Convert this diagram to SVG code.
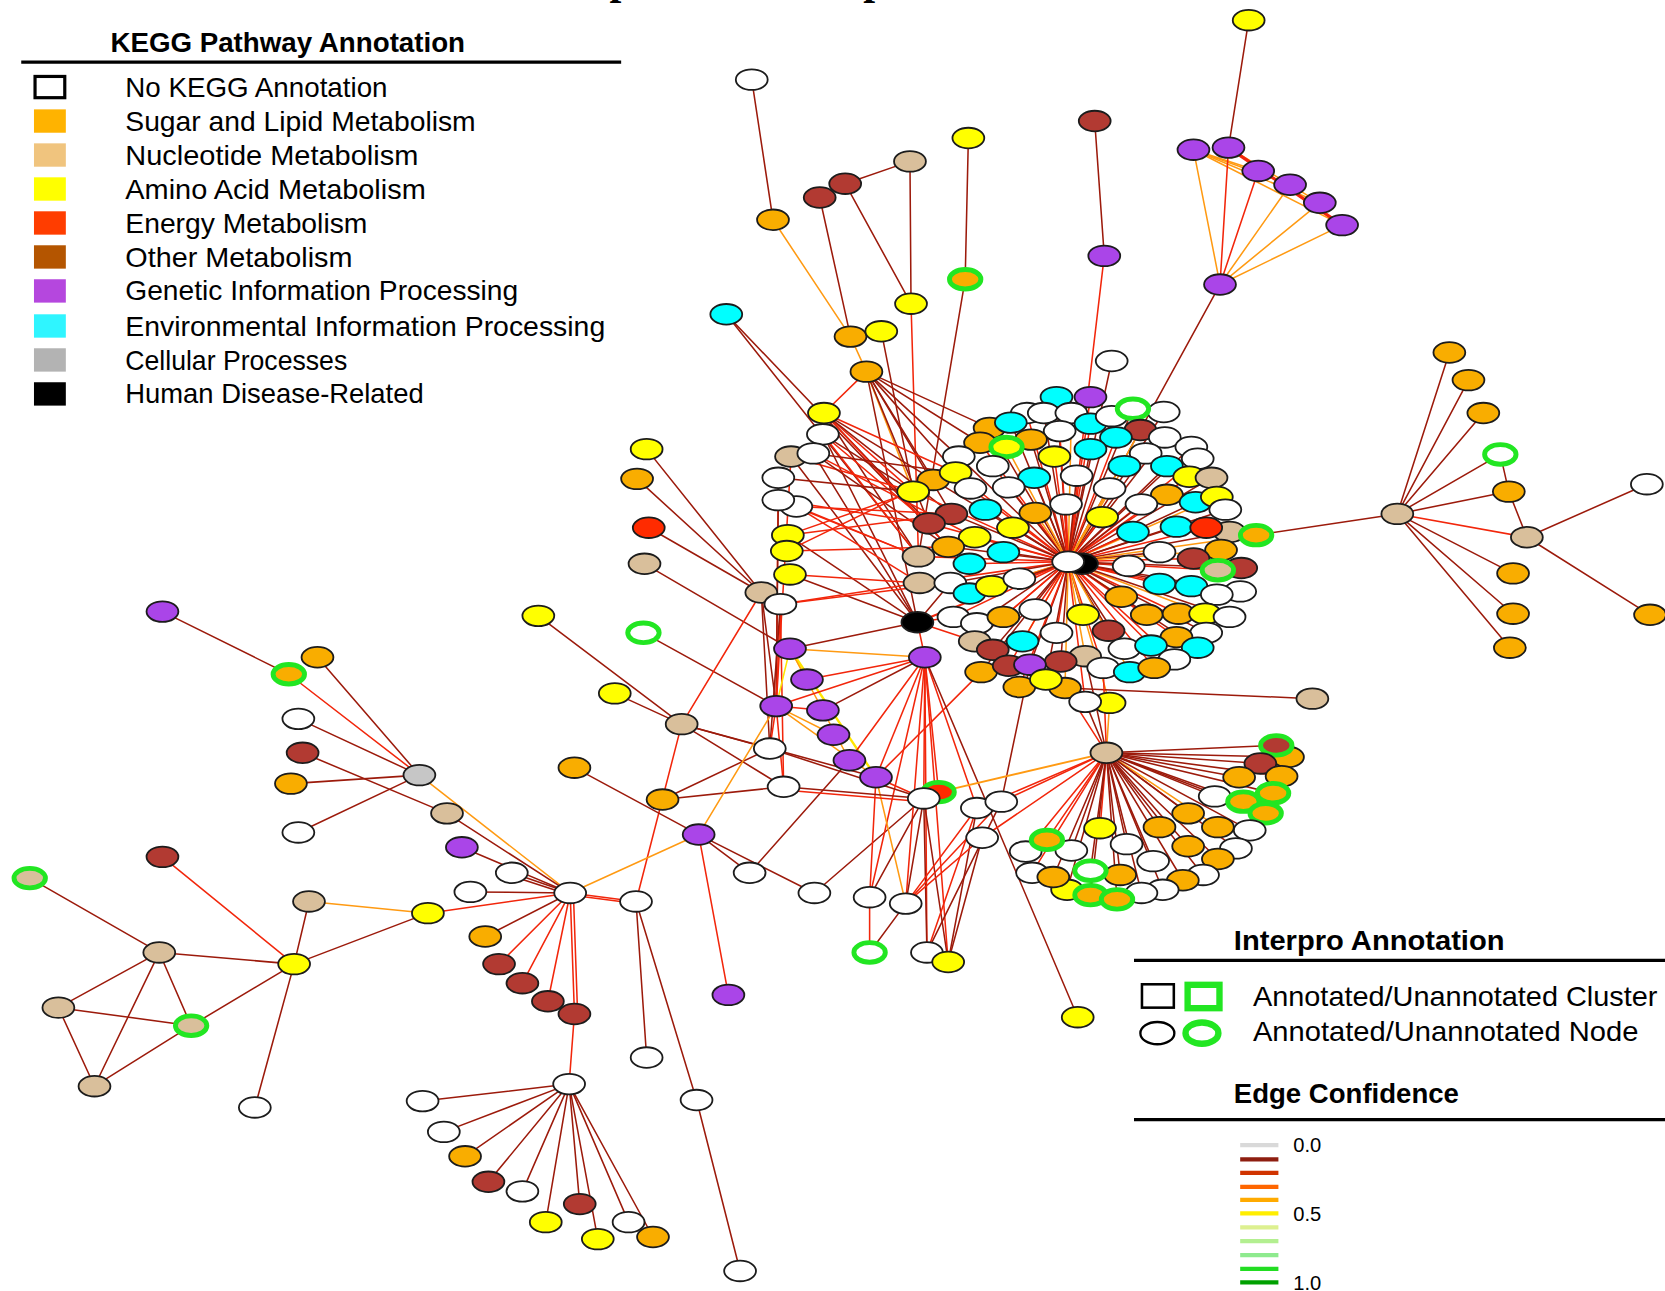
<svg xmlns="http://www.w3.org/2000/svg" width="1665" height="1291" viewBox="0 0 1665 1291">
<style>
.lg{font-family:"Liberation Sans",Arial,sans-serif;fill:#000}
.lt{font-size:26px}
.lh{font-size:25.5px;font-weight:bold}
.ls{font-size:19px}
#edges line{stroke-width:1.45;fill:none;stroke-linecap:round}
.e1{stroke:#9c1a0b}
.e2{stroke:#f2260b}
.e3{stroke:#ff9a12}
.e4{stroke:#ffe600}
.nd ellipse{stroke:#1c1c1c;stroke-width:1.7}
.rg ellipse{stroke:#22e622;stroke-width:4.6}
.w{fill:#ffffff}.o{fill:#f9ad00}.t{fill:#d9bf9b}.y{fill:#ffff00}.r{fill:#ff2b00}
.b{fill:#b23a32}.p{fill:#aa45e8}.c{fill:#00ffff}.g{fill:#c6c6c6}.k{fill:#000000}
</style>
<rect width="1665" height="1291" fill="#ffffff"/>
<g transform="scale(1.0618)">
<!-- heading above the frame, only the descenders reach the visible area -->
<g id="heading" font-family="Liberation Serif,serif" font-weight="bold" font-size="40">
<text x="574" y="-5.5">p</text>
<text x="813" y="-5.5">p</text>
</g>

<!-- KEGG legend -->
<g id="legend-kegg" class="lg">
<text class="lh" x="104" y="49" textLength="334" lengthAdjust="spacingAndGlyphs">KEGG Pathway Annotation</text>
<line x1="20" y1="58.5" x2="585" y2="58.5" stroke="#000" stroke-width="3"/>
<rect x="33" y="72" width="28" height="20" fill="#fff" stroke="#000" stroke-width="3"/>
<rect x="32" y="103" width="30" height="22" fill="#ffb300"/>
<rect x="32" y="135" width="30" height="22" fill="#f0c47e"/>
<rect x="32" y="167" width="30" height="22" fill="#ffff00"/>
<rect x="32" y="199" width="30" height="22" fill="#ff3d00"/>
<rect x="32" y="231" width="30" height="22" fill="#b45500"/>
<rect x="32" y="263" width="30" height="22" fill="#b547de"/>
<rect x="32" y="296" width="30" height="22" fill="#2ff5ff"/>
<rect x="32" y="328" width="30" height="22" fill="#b3b3b3"/>
<rect x="32" y="360" width="30" height="22" fill="#000"/>
<text class="lt" x="118" y="91" textLength="247" lengthAdjust="spacingAndGlyphs">No KEGG Annotation</text>
<text class="lt" x="118" y="123" textLength="330" lengthAdjust="spacingAndGlyphs">Sugar and Lipid Metabolism</text>
<text class="lt" x="118" y="155" textLength="276" lengthAdjust="spacingAndGlyphs">Nucleotide Metabolism</text>
<text class="lt" x="118" y="187" textLength="283" lengthAdjust="spacingAndGlyphs">Amino Acid Metabolism</text>
<text class="lt" x="118" y="219" textLength="228" lengthAdjust="spacingAndGlyphs">Energy Metabolism</text>
<text class="lt" x="118" y="251" textLength="214" lengthAdjust="spacingAndGlyphs">Other Metabolism</text>
<text class="lt" x="118" y="283" textLength="370" lengthAdjust="spacingAndGlyphs">Genetic Information Processing</text>
<text class="lt" x="118" y="316" textLength="452" lengthAdjust="spacingAndGlyphs">Environmental Information Processing</text>
<text class="lt" x="118" y="348" textLength="209" lengthAdjust="spacingAndGlyphs">Cellular Processes</text>
<text class="lt" x="118" y="380" textLength="281" lengthAdjust="spacingAndGlyphs">Human Disease-Related</text>
</g>

<!-- Interpro legend -->
<g id="legend-interpro" class="lg">
<text class="lh" x="1162" y="895" textLength="255" lengthAdjust="spacingAndGlyphs">Interpro Annotation</text>
<line x1="1068" y1="904.5" x2="1570" y2="904.5" stroke="#000" stroke-width="3"/>
<rect x="1075.5" y="927" width="30" height="22" fill="#fff" stroke="#000" stroke-width="2.4"/>
<rect x="1118.5" y="927.5" width="30" height="22" fill="#fff" stroke="#22e622" stroke-width="6"/>
<ellipse cx="1090" cy="973" rx="16" ry="10.5" fill="#fff" stroke="#000" stroke-width="2.2"/>
<ellipse cx="1132" cy="973" rx="15.5" ry="10" fill="#fff" stroke="#22e622" stroke-width="6"/>
<text class="lt" x="1180" y="947" textLength="381" lengthAdjust="spacingAndGlyphs">Annotated/Unannotated Cluster</text>
<text class="lt" x="1180" y="980" textLength="363" lengthAdjust="spacingAndGlyphs">Annotated/Unannotated Node</text>
</g>

<!-- edge confidence legend -->
<g id="legend-confidence" class="lg">
<text class="lh" x="1162" y="1039" textLength="212" lengthAdjust="spacingAndGlyphs">Edge Confidence</text>
<line x1="1068" y1="1054.5" x2="1570" y2="1054.5" stroke="#000" stroke-width="3"/>
<g stroke-width="4">
<line x1="1168" y1="1078.5" x2="1204" y2="1078.5" stroke="#d9d9d9"/>
<line x1="1168" y1="1092" x2="1204" y2="1092" stroke="#8e1e10"/>
<line x1="1168" y1="1104.5" x2="1204" y2="1104.5" stroke="#d03300"/>
<line x1="1168" y1="1117.7" x2="1204" y2="1117.7" stroke="#ff6600"/>
<line x1="1168" y1="1130" x2="1204" y2="1130" stroke="#ffaa00"/>
<line x1="1168" y1="1142.8" x2="1204" y2="1142.8" stroke="#ffee00"/>
<line x1="1168" y1="1156" x2="1204" y2="1156" stroke="#ddf090"/>
<line x1="1168" y1="1169" x2="1204" y2="1169" stroke="#b3ef90"/>
<line x1="1168" y1="1182" x2="1204" y2="1182" stroke="#8eea8e"/>
<line x1="1168" y1="1195" x2="1204" y2="1195" stroke="#22dd22"/>
<line x1="1168" y1="1207.8" x2="1204" y2="1207.8" stroke="#00a000"/>
</g>
<text class="ls" x="1218" y="1085">0.0</text>
<text class="ls" x="1218" y="1150">0.5</text>
<text class="ls" x="1218" y="1215">1.0</text>
</g>

<g id="edges">
<!-- top branches -->
<line class="e1" x1="1176" y1="19" x2="1157" y2="139"/>
<line class="e3" x1="1124" y1="141" x2="1185" y2="161"/>
<line class="e3" x1="1124" y1="141" x2="1215" y2="174"/>
<line class="e3" x1="1124" y1="141" x2="1243" y2="191"/>
<line class="e3" x1="1124" y1="141" x2="1264" y2="212"/>
<line class="e3" x1="1157" y1="139" x2="1243" y2="191"/>
<line class="e2" x1="1157" y1="139" x2="1264" y2="212" style="stroke-width:3"/>
<line class="e3" x1="1149" y1="268" x2="1124" y2="141"/>
<line class="e2" x1="1149" y1="268" x2="1157" y2="139"/>
<line class="e2" x1="1149" y1="268" x2="1185" y2="161"/>
<line class="e3" x1="1149" y1="268" x2="1215" y2="174"/>
<line class="e3" x1="1149" y1="268" x2="1243" y2="191"/>
<line class="e3" x1="1149" y1="268" x2="1264" y2="212"/>
<line class="e1" x1="1149" y1="268" x2="1006" y2="529"/>
<line class="e1" x1="708" y1="75" x2="728" y2="207"/>
<line class="e3" x1="728" y1="207" x2="801" y2="317"/>
<line class="e3" x1="801" y1="317" x2="816" y2="350"/>
<line class="e1" x1="857" y1="152" x2="796" y2="173"/>
<line class="e1" x1="857" y1="152" x2="858" y2="286"/>
<line class="e1" x1="796" y1="173" x2="858" y2="286"/>
<line class="e1" x1="772" y1="186" x2="801" y2="317"/>
<line class="e1" x1="912" y1="130" x2="909" y2="263"/>
<line class="e1" x1="909" y1="263" x2="865" y2="524"/>
<line class="e2" x1="858" y1="286" x2="865" y2="524"/>
<line class="e1" x1="1031" y1="114" x2="1040" y2="241"/>
<line class="e2" x1="1040" y1="241" x2="1006" y2="529"/>
<line class="e1" x1="1047" y1="340" x2="1006" y2="529"/>
<line class="e1" x1="684" y1="296" x2="865" y2="524"/>
<line class="e1" x1="684" y1="296" x2="893" y2="515"/>
<line class="e1" x1="830" y1="312" x2="860" y2="463"/>
<line class="e3" x1="816" y1="350" x2="860" y2="463"/>
<line class="e1" x1="816" y1="350" x2="900" y2="445"/>
<line class="e1" x1="816" y1="350" x2="903" y2="430"/>
<line class="e1" x1="816" y1="350" x2="923" y2="417"/>
<line class="e1" x1="816" y1="350" x2="932" y2="403"/>
<line class="e1" x1="816" y1="350" x2="879" y2="452"/>
<line class="e1" x1="816" y1="350" x2="875" y2="493"/>
<line class="e1" x1="816" y1="350" x2="896" y2="484"/>
<line class="e1" x1="816" y1="350" x2="864" y2="586"/>
<line class="e2" x1="816" y1="350" x2="776" y2="389"/>
<!-- left column into the cluster -->
<line class="e2" x1="776" y1="389" x2="860" y2="463"/>
<line class="e1" x1="776" y1="389" x2="879" y2="452"/>
<line class="e1" x1="776" y1="389" x2="875" y2="493"/>
<line class="e1" x1="776" y1="389" x2="896" y2="484"/>
<line class="e2" x1="776" y1="389" x2="900" y2="445"/>
<line class="e2" x1="776" y1="389" x2="893" y2="515"/>
<line class="e1" x1="776" y1="389" x2="865" y2="524"/>
<line class="e1" x1="775" y1="409" x2="860" y2="463"/>
<line class="e2" x1="775" y1="409" x2="865" y2="524"/>
<line class="e1" x1="775" y1="409" x2="864" y2="586"/>
<line class="e2" x1="775" y1="409" x2="875" y2="493"/>
<line class="e2" x1="745" y1="430" x2="860" y2="463"/>
<line class="e1" x1="745" y1="430" x2="864" y2="586"/>
<line class="e2" x1="745" y1="430" x2="731" y2="665"/>
<line class="e1" x1="766" y1="427" x2="900" y2="445"/>
<line class="e2" x1="766" y1="427" x2="918" y2="506"/>
<line class="e1" x1="766" y1="427" x2="893" y2="515"/>
<line class="e1" x1="766" y1="427" x2="864" y2="586"/>
<line class="e1" x1="733" y1="450" x2="860" y2="463"/>
<line class="e2" x1="733" y1="450" x2="731" y2="665"/>
<line class="e2" x1="733" y1="471" x2="875" y2="493"/>
<line class="e1" x1="733" y1="471" x2="731" y2="665"/>
<line class="e2" x1="733" y1="471" x2="865" y2="524"/>
<line class="e2" x1="750" y1="477" x2="865" y2="524"/>
<line class="e2" x1="750" y1="477" x2="896" y2="484"/>
<line class="e2" x1="750" y1="477" x2="866" y2="549"/>
<line class="e2" x1="742" y1="504" x2="860" y2="463"/>
<line class="e2" x1="742" y1="504" x2="896" y2="484"/>
<line class="e1" x1="742" y1="504" x2="864" y2="586"/>
<line class="e2" x1="741" y1="519" x2="879" y2="452"/>
<line class="e2" x1="741" y1="519" x2="893" y2="515"/>
<line class="e2" x1="744" y1="541" x2="866" y2="549"/>
<line class="e1" x1="744" y1="541" x2="864" y2="586"/>
<line class="e1" x1="717" y1="558" x2="731" y2="665"/>
<line class="e1" x1="717" y1="558" x2="725" y2="705"/>
<line class="e2" x1="735" y1="569" x2="895" y2="549"/>
<line class="e2" x1="735" y1="569" x2="866" y2="549"/>
<line class="e2" x1="735" y1="569" x2="731" y2="665"/>
<line class="e2" x1="735" y1="569" x2="738" y2="741"/>
<line class="e1" x1="735" y1="569" x2="725" y2="705"/>
<!-- disease node -->
<line class="e2" x1="864" y1="586" x2="1006" y2="529" style="stroke-width:2"/>
<line class="e1" x1="864" y1="586" x2="744" y2="611"/>
<line class="e2" x1="864" y1="586" x2="871" y2="619"/>
<line class="e2" x1="864" y1="586" x2="898" y2="581"/>
<line class="e2" x1="864" y1="586" x2="918" y2="604"/>
<line class="e1" x1="864" y1="586" x2="895" y2="549"/>
<!-- central star -->
<line class="e1" x1="1006" y1="529" x2="995" y2="374"/>
<line class="e2" x1="1006" y1="529" x2="1027" y2="374"/>
<line class="e1" x1="1006" y1="529" x2="1067" y2="385"/>
<line class="e1" x1="1006" y1="529" x2="1096" y2="388"/>
<line class="e2" x1="1006" y1="529" x2="967" y2="389"/>
<line class="e1" x1="1006" y1="529" x2="983" y2="389"/>
<line class="e3" x1="1006" y1="529" x2="1009" y2="389"/>
<line class="e2" x1="1006" y1="529" x2="1027" y2="399"/>
<line class="e1" x1="1006" y1="529" x2="932" y2="403"/>
<line class="e1" x1="1006" y1="529" x2="952" y2="398"/>
<line class="e2" x1="1006" y1="529" x2="998" y2="406"/>
<line class="e1" x1="1006" y1="529" x2="1047" y2="392"/>
<line class="e3" x1="1006" y1="529" x2="1074" y2="405"/>
<line class="e2" x1="1006" y1="529" x2="1051" y2="412"/>
<line class="e1" x1="1006" y1="529" x2="1097" y2="412"/>
<line class="e1" x1="1006" y1="529" x2="1122" y2="421"/>
<line class="e2" x1="1006" y1="529" x2="923" y2="417"/>
<line class="e3" x1="1006" y1="529" x2="948" y2="421"/>
<line class="e1" x1="1006" y1="529" x2="971" y2="414"/>
<line class="e2" x1="1006" y1="529" x2="993" y2="430"/>
<line class="e1" x1="1006" y1="529" x2="1027" y2="423"/>
<line class="e1" x1="1006" y1="529" x2="1079" y2="427"/>
<line class="e2" x1="1006" y1="529" x2="1128" y2="432"/>
<line class="e1" x1="1006" y1="529" x2="903" y2="430"/>
<line class="e2" x1="1006" y1="529" x2="935" y2="439"/>
<line class="e3" x1="1006" y1="529" x2="1059" y2="439"/>
<line class="e1" x1="1006" y1="529" x2="1099" y2="439"/>
<line class="e2" x1="1006" y1="529" x2="900" y2="445"/>
<line class="e1" x1="1006" y1="529" x2="879" y2="452"/>
<line class="e2" x1="1006" y1="529" x2="860" y2="463"/>
<line class="e1" x1="1006" y1="529" x2="974" y2="450"/>
<line class="e1" x1="1006" y1="529" x2="1014" y2="448"/>
<line class="e2" x1="1006" y1="529" x2="914" y2="460"/>
<line class="e1" x1="1006" y1="529" x2="950" y2="459"/>
<line class="e3" x1="1006" y1="529" x2="1045" y2="460"/>
<line class="e2" x1="1006" y1="529" x2="1120" y2="449"/>
<line class="e1" x1="1006" y1="529" x2="1141" y2="450"/>
<line class="e2" x1="1006" y1="529" x2="1099" y2="466"/>
<line class="e1" x1="1006" y1="529" x2="1126" y2="473"/>
<line class="e3" x1="1006" y1="529" x2="1146" y2="468"/>
<line class="e1" x1="1006" y1="529" x2="1154" y2="480"/>
<line class="e2" x1="1006" y1="529" x2="1004" y2="475"/>
<line class="e1" x1="1006" y1="529" x2="1075" y2="475"/>
<line class="e1" x1="1006" y1="529" x2="896" y2="484"/>
<line class="e2" x1="1006" y1="529" x2="875" y2="493"/>
<line class="e1" x1="1006" y1="529" x2="928" y2="480"/>
<line class="e3" x1="1006" y1="529" x2="975" y2="483"/>
<line class="e2" x1="1006" y1="529" x2="1038" y2="487"/>
<line class="e1" x1="1006" y1="529" x2="954" y2="497"/>
<line class="e2" x1="1006" y1="529" x2="1067" y2="501"/>
<line class="e1" x1="1006" y1="529" x2="1108" y2="496"/>
<line class="e2" x1="1006" y1="529" x2="1136" y2="497"/>
<line class="e1" x1="1006" y1="529" x2="1158" y2="501"/>
<line class="e3" x1="1006" y1="529" x2="1183" y2="504"/>
<line class="e2" x1="1006" y1="529" x2="918" y2="506"/>
<line class="e1" x1="1006" y1="529" x2="893" y2="515"/>
<line class="e2" x1="1006" y1="529" x2="865" y2="524"/>
<line class="e1" x1="1006" y1="529" x2="945" y2="520"/>
<line class="e2" x1="1006" y1="529" x2="913" y2="531"/>
<line class="e1" x1="1006" y1="529" x2="1092" y2="520"/>
<line class="e2" x1="1006" y1="529" x2="1124" y2="526"/>
<line class="e3" x1="1006" y1="529" x2="1150" y2="518"/>
<line class="e1" x1="1006" y1="529" x2="1063" y2="533"/>
<line class="e2" x1="1006" y1="529" x2="1147" y2="537"/>
<line class="e1" x1="1006" y1="529" x2="1169" y2="535"/>
<line class="e2" x1="1006" y1="529" x2="866" y2="549"/>
<line class="e1" x1="1006" y1="529" x2="895" y2="549"/>
<line class="e2" x1="1006" y1="529" x2="913" y2="559"/>
<line class="e3" x1="1006" y1="529" x2="934" y2="552"/>
<line class="e1" x1="1006" y1="529" x2="960" y2="545"/>
<line class="e2" x1="1006" y1="529" x2="1092" y2="550"/>
<line class="e1" x1="1006" y1="529" x2="1122" y2="552"/>
<line class="e2" x1="1006" y1="529" x2="1146" y2="560"/>
<line class="e1" x1="1006" y1="529" x2="1168" y2="557"/>
<line class="e3" x1="1006" y1="529" x2="1056" y2="562"/>
<line class="e2" x1="1006" y1="529" x2="975" y2="574"/>
<line class="e1" x1="1006" y1="529" x2="1020" y2="579"/>
<line class="e2" x1="1006" y1="529" x2="898" y2="581"/>
<line class="e1" x1="1006" y1="529" x2="920" y2="587"/>
<line class="e2" x1="1006" y1="529" x2="945" y2="581"/>
<line class="e1" x1="1006" y1="529" x2="1080" y2="579"/>
<line class="e2" x1="1006" y1="529" x2="1110" y2="578"/>
<line class="e3" x1="1006" y1="529" x2="1135" y2="578"/>
<line class="e1" x1="1006" y1="529" x2="1158" y2="581"/>
<line class="e2" x1="1006" y1="529" x2="995" y2="596"/>
<line class="e1" x1="1006" y1="529" x2="1044" y2="594"/>
<line class="e2" x1="1006" y1="529" x2="1108" y2="600"/>
<line class="e1" x1="1006" y1="529" x2="1136" y2="596"/>
<line class="e2" x1="1006" y1="529" x2="918" y2="604"/>
<line class="e1" x1="1006" y1="529" x2="935" y2="612"/>
<line class="e3" x1="1006" y1="529" x2="963" y2="604"/>
<line class="e1" x1="1006" y1="529" x2="1059" y2="611"/>
<line class="e2" x1="1006" y1="529" x2="1084" y2="608"/>
<line class="e1" x1="1006" y1="529" x2="1128" y2="610"/>
<line class="e2" x1="1006" y1="529" x2="1106" y2="621"/>
<line class="e3" x1="1006" y1="529" x2="1022" y2="618"/>
<line class="e1" x1="1006" y1="529" x2="999" y2="623"/>
<line class="e2" x1="1006" y1="529" x2="950" y2="627"/>
<line class="e1" x1="1006" y1="529" x2="970" y2="626"/>
<line class="e2" x1="1006" y1="529" x2="1039" y2="629"/>
<line class="e1" x1="1006" y1="529" x2="924" y2="633"/>
<line class="e3" x1="1006" y1="529" x2="1064" y2="633"/>
<line class="e2" x1="1006" y1="529" x2="1087" y2="629"/>
<line class="e1" x1="1006" y1="529" x2="985" y2="640"/>
<line class="e2" x1="1006" y1="529" x2="960" y2="647"/>
<line class="e3" x1="1006" y1="529" x2="1003" y2="648"/>
<line class="e2" x1="1006" y1="529" x2="1022" y2="661"/>
<line class="e3" x1="1006" y1="529" x2="1045" y2="662"/>
<!-- middle left -->
<line class="e1" x1="609" y1="423" x2="717" y2="558"/>
<line class="e1" x1="600" y1="451" x2="717" y2="558"/>
<line class="e1" x1="611" y1="497" x2="717" y2="558"/>
<line class="e1" x1="607" y1="531" x2="744" y2="611"/>
<line class="e1" x1="606" y1="596" x2="731" y2="665"/>
<line class="e1" x1="579" y1="653" x2="642" y2="682"/>
<line class="e1" x1="507" y1="580" x2="642" y2="682"/>
<line class="e2" x1="642" y1="682" x2="717" y2="558"/>
<line class="e2" x1="642" y1="682" x2="599" y2="849"/>
<line class="e1" x1="642" y1="682" x2="725" y2="705"/>
<line class="e1" x1="642" y1="682" x2="825" y2="732"/>
<line class="e1" x1="642" y1="682" x2="738" y2="741"/>
<line class="e1" x1="541" y1="723" x2="658" y2="786"/>
<line class="e1" x1="624" y1="753" x2="725" y2="705"/>
<line class="e1" x1="624" y1="753" x2="738" y2="741"/>
<line class="e3" x1="658" y1="786" x2="537" y2="841"/>
<line class="e3" x1="658" y1="786" x2="731" y2="665"/>
<line class="e1" x1="658" y1="786" x2="706" y2="822"/>
<line class="e1" x1="658" y1="786" x2="767" y2="841"/>
<line class="e2" x1="658" y1="786" x2="686" y2="937"/>
<line class="e1" x1="706" y1="822" x2="800" y2="716"/>
<line class="e1" x1="767" y1="841" x2="870" y2="752"/>
<line class="e3" x1="744" y1="611" x2="871" y2="619"/>
<line class="e4" x1="744" y1="611" x2="760" y2="640"/>
<line class="e4" x1="744" y1="611" x2="731" y2="665"/>
<line class="e4" x1="744" y1="611" x2="825" y2="732" style="stroke-width:2.2"/>
<line class="e3" x1="744" y1="611" x2="800" y2="716"/>
<line class="e2" x1="731" y1="665" x2="871" y2="619"/>
<line class="e2" x1="731" y1="665" x2="775" y2="669"/>
<line class="e3" x1="731" y1="665" x2="785" y2="692"/>
<line class="e2" x1="731" y1="665" x2="725" y2="705"/>
<line class="e2" x1="731" y1="665" x2="738" y2="741"/>
<line class="e3" x1="731" y1="665" x2="825" y2="732"/>
<line class="e2" x1="760" y1="640" x2="871" y2="619"/>
<line class="e1" x1="775" y1="669" x2="871" y2="619"/>
<line class="e2" x1="800" y1="716" x2="871" y2="619"/>
<line class="e2" x1="825" y1="732" x2="871" y2="619"/>
<line class="e2" x1="924" y1="633" x2="825" y2="732"/>
<line class="e2" x1="871" y1="619" x2="884" y2="746"/>
<line class="e2" x1="871" y1="619" x2="870" y2="752"/>
<line class="e2" x1="871" y1="619" x2="920" y2="761"/>
<line class="e2" x1="871" y1="619" x2="819" y2="845"/>
<line class="e2" x1="871" y1="619" x2="853" y2="851"/>
<line class="e2" x1="871" y1="619" x2="873" y2="897"/>
<line class="e2" x1="871" y1="619" x2="893" y2="906"/>
<line class="e1" x1="871" y1="619" x2="1015" y2="958"/>
<line class="e2" x1="825" y1="732" x2="870" y2="752"/>
<line class="e2" x1="825" y1="732" x2="819" y2="845"/>
<line class="e3" x1="825" y1="732" x2="853" y2="851"/>
<line class="e1" x1="725" y1="705" x2="870" y2="752"/>
<line class="e1" x1="738" y1="741" x2="870" y2="752"/>
<line class="e2" x1="738" y1="744" x2="870" y2="755"/>
<line class="e1" x1="870" y1="752" x2="819" y2="845"/>
<line class="e1" x1="870" y1="752" x2="853" y2="851"/>
<line class="e1" x1="870" y1="752" x2="873" y2="897"/>
<line class="e1" x1="870" y1="752" x2="893" y2="906"/>
<line class="e2" x1="819" y1="897" x2="819" y2="845"/>
<line class="e1" x1="819" y1="897" x2="853" y2="851"/>
<line class="e2" x1="920" y1="761" x2="853" y2="851"/>
<line class="e2" x1="920" y1="761" x2="873" y2="897"/>
<line class="e1" x1="920" y1="761" x2="893" y2="906"/>
<line class="e2" x1="943" y1="755" x2="853" y2="851"/>
<line class="e1" x1="943" y1="755" x2="873" y2="897"/>
<line class="e2" x1="925" y1="789" x2="853" y2="851"/>
<line class="e1" x1="925" y1="789" x2="893" y2="906"/>
<line class="e1" x1="970" y1="626" x2="943" y2="755"/>
<line class="e1" x1="1003" y1="648" x2="1236" y2="658"/>
<!-- lower fan -->
<line class="e3" x1="1042" y1="709" x2="884" y2="746" style="stroke-width:1.8"/>
<line class="e2" x1="1042" y1="709" x2="920" y2="761"/>
<line class="e2" x1="1042" y1="709" x2="943" y2="755"/>
<line class="e2" x1="1042" y1="709" x2="925" y2="789"/>
<line class="e1" x1="1042" y1="709" x2="1022" y2="661"/>
<line class="e3" x1="1042" y1="709" x2="1045" y2="662"/>
<line class="e2" x1="1042" y1="709" x2="1039" y2="629"/>
<line class="e2" x1="1042" y1="709" x2="1003" y2="648"/>
<line class="e1" x1="1042" y1="709" x2="1022" y2="618"/>
<line class="e1" x1="1042" y1="709" x2="1202" y2="702"/>
<line class="e1" x1="1042" y1="709" x2="1213" y2="713"/>
<line class="e1" x1="1042" y1="709" x2="1187" y2="719"/>
<line class="e1" x1="1042" y1="709" x2="1167" y2="732"/>
<line class="e1" x1="1042" y1="709" x2="1207" y2="731"/>
<line class="e1" x1="1042" y1="709" x2="1144" y2="750"/>
<line class="e1" x1="1042" y1="709" x2="1171" y2="755"/>
<line class="e1" x1="1042" y1="709" x2="1199" y2="747"/>
<line class="e1" x1="1042" y1="709" x2="1192" y2="766"/>
<line class="e1" x1="1042" y1="709" x2="1119" y2="766"/>
<line class="e1" x1="1042" y1="709" x2="1092" y2="779"/>
<line class="e3" x1="1042" y1="709" x2="1147" y2="779"/>
<line class="e1" x1="1042" y1="709" x2="1177" y2="782"/>
<line class="e2" x1="1042" y1="709" x2="1036" y2="780"/>
<line class="e2" x1="1042" y1="709" x2="986" y2="791"/>
<line class="e1" x1="1042" y1="709" x2="1061" y2="795"/>
<line class="e1" x1="1042" y1="709" x2="1119" y2="797"/>
<line class="e1" x1="1042" y1="709" x2="1164" y2="799"/>
<line class="e2" x1="1042" y1="709" x2="966" y2="802"/>
<line class="e1" x1="1042" y1="709" x2="1009" y2="801"/>
<line class="e1" x1="1042" y1="709" x2="1086" y2="811"/>
<line class="e1" x1="1042" y1="709" x2="1147" y2="809"/>
<line class="e2" x1="1042" y1="709" x2="972" y2="822"/>
<line class="e1" x1="1042" y1="709" x2="992" y2="826"/>
<line class="e1" x1="1042" y1="709" x2="1027" y2="820"/>
<line class="e1" x1="1042" y1="709" x2="1055" y2="824"/>
<line class="e1" x1="1042" y1="709" x2="1133" y2="824"/>
<line class="e1" x1="1042" y1="709" x2="1114" y2="829"/>
<line class="e1" x1="1042" y1="709" x2="1095" y2="838"/>
<line class="e1" x1="1042" y1="709" x2="1075" y2="841"/>
<line class="e1" x1="1042" y1="709" x2="1005" y2="838"/>
<line class="e1" x1="1042" y1="709" x2="1027" y2="843"/>
<line class="e1" x1="1042" y1="709" x2="1052" y2="847"/>
<!-- right branch -->
<line class="e1" x1="1316" y1="484" x2="1183" y2="504"/>
<line class="e1" x1="1316" y1="484" x2="1365" y2="332"/>
<line class="e1" x1="1316" y1="484" x2="1383" y2="358"/>
<line class="e1" x1="1316" y1="484" x2="1397" y2="389"/>
<line class="e1" x1="1316" y1="484" x2="1413" y2="428"/>
<line class="e1" x1="1316" y1="484" x2="1421" y2="463"/>
<line class="e2" x1="1316" y1="484" x2="1438" y2="506"/>
<line class="e1" x1="1316" y1="484" x2="1425" y2="540"/>
<line class="e1" x1="1316" y1="484" x2="1425" y2="578"/>
<line class="e1" x1="1316" y1="484" x2="1422" y2="610"/>
<line class="e1" x1="1413" y1="428" x2="1421" y2="463"/>
<line class="e1" x1="1421" y1="463" x2="1438" y2="506"/>
<line class="e1" x1="1438" y1="506" x2="1551" y2="456"/>
<line class="e1" x1="1438" y1="506" x2="1554" y2="579"/>
<!-- far left -->
<line class="e1" x1="153" y1="576" x2="272" y2="635"/>
<line class="e2" x1="272" y1="635" x2="395" y2="730"/>
<line class="e1" x1="299" y1="619" x2="395" y2="730"/>
<line class="e1" x1="281" y1="677" x2="395" y2="730"/>
<line class="e1" x1="285" y1="709" x2="421" y2="766"/>
<line class="e1" x1="274" y1="738" x2="395" y2="730"/>
<line class="e1" x1="281" y1="784" x2="395" y2="730"/>
<line class="e3" x1="395" y1="730" x2="537" y2="841"/>
<line class="e1" x1="421" y1="766" x2="537" y2="841"/>
<line class="e1" x1="435" y1="798" x2="537" y2="841"/>
<line class="e1" x1="482" y1="822" x2="537" y2="841"/>
<line class="e1" x1="482" y1="825" x2="537" y2="843"/>
<line class="e1" x1="443" y1="840" x2="537" y2="841"/>
<line class="e1" x1="457" y1="882" x2="537" y2="841"/>
<line class="e2" x1="470" y1="908" x2="537" y2="841"/>
<line class="e2" x1="492" y1="926" x2="537" y2="841"/>
<line class="e2" x1="516" y1="943" x2="537" y2="841"/>
<line class="e2" x1="541" y1="955" x2="537" y2="841"/>
<line class="e2" x1="544" y1="955" x2="540" y2="841"/>
<line class="e2" x1="541" y1="955" x2="536" y2="1021"/>
<line class="e2" x1="537" y1="841" x2="599" y2="849"/>
<line class="e2" x1="537" y1="843" x2="599" y2="851"/>
<line class="e2" x1="537" y1="841" x2="403" y2="860"/>
<line class="e1" x1="536" y1="1021" x2="398" y2="1037"/>
<line class="e1" x1="536" y1="1021" x2="418" y2="1066"/>
<line class="e1" x1="536" y1="1021" x2="438" y2="1089"/>
<line class="e1" x1="536" y1="1021" x2="460" y2="1113"/>
<line class="e1" x1="536" y1="1021" x2="492" y2="1122"/>
<line class="e1" x1="536" y1="1021" x2="514" y2="1151"/>
<line class="e1" x1="536" y1="1021" x2="546" y2="1134"/>
<line class="e1" x1="536" y1="1021" x2="563" y2="1167"/>
<line class="e1" x1="536" y1="1021" x2="592" y2="1151"/>
<line class="e1" x1="536" y1="1021" x2="615" y2="1165"/>
<line class="e1" x1="599" y1="849" x2="609" y2="996"/>
<line class="e1" x1="599" y1="849" x2="656" y2="1036"/>
<line class="e1" x1="656" y1="1036" x2="697" y2="1197"/>
<line class="e1" x1="28" y1="827" x2="150" y2="897"/>
<line class="e2" x1="153" y1="807" x2="277" y2="908"/>
<line class="e3" x1="291" y1="849" x2="403" y2="860"/>
<line class="e1" x1="291" y1="849" x2="277" y2="908"/>
<line class="e1" x1="277" y1="908" x2="403" y2="860"/>
<line class="e1" x1="277" y1="908" x2="150" y2="897"/>
<line class="e1" x1="277" y1="908" x2="180" y2="966"/>
<line class="e1" x1="277" y1="908" x2="240" y2="1043"/>
<line class="e1" x1="150" y1="897" x2="55" y2="949"/>
<line class="e1" x1="150" y1="897" x2="180" y2="966"/>
<line class="e1" x1="150" y1="897" x2="89" y2="1023"/>
<line class="e1" x1="55" y1="949" x2="180" y2="966"/>
<line class="e1" x1="55" y1="949" x2="89" y2="1023"/>
<line class="e1" x1="89" y1="1023" x2="180" y2="966"/>
</g>

<g id="nodes">
<!-- top -->
<g id="a1" class="nd y"><ellipse cx="1176" cy="19" rx="15" ry="9.7"/></g>
<g id="a2" class="nd w"><ellipse cx="708" cy="75" rx="15" ry="9.7"/></g>
<g id="a3" class="nd b"><ellipse cx="1031" cy="114" rx="15" ry="9.7"/></g>
<g id="a4" class="nd y"><ellipse cx="912" cy="130" rx="15" ry="9.7"/></g>
<g id="a5" class="nd p"><ellipse cx="1124" cy="141" rx="15" ry="9.7"/></g>
<g id="a6" class="nd p"><ellipse cx="1157" cy="139" rx="15" ry="9.7"/></g>
<g id="a7" class="nd p"><ellipse cx="1185" cy="161" rx="15" ry="9.7"/></g>
<g id="a8" class="nd p"><ellipse cx="1215" cy="174" rx="15" ry="9.7"/></g>
<g id="a9" class="nd p"><ellipse cx="1243" cy="191" rx="15" ry="9.7"/></g>
<g id="a10" class="nd p"><ellipse cx="1264" cy="212" rx="15" ry="9.7"/></g>
<g id="a11" class="nd p"><ellipse cx="1149" cy="268" rx="15" ry="9.7"/></g>
<g id="a12" class="nd t"><ellipse cx="857" cy="152" rx="15" ry="9.7"/></g>
<g id="a13" class="nd b"><ellipse cx="796" cy="173" rx="15" ry="9.7"/></g>
<g id="a14" class="nd b"><ellipse cx="772" cy="186" rx="15" ry="9.7"/></g>
<g id="a15" class="nd o"><ellipse cx="728" cy="207" rx="15" ry="9.7"/></g>
<g id="a16" class="nd p"><ellipse cx="1040" cy="241" rx="15" ry="9.7"/></g>
<g id="a17" class="nd rg o"><ellipse cx="909" cy="263" rx="14.8" ry="9.2"/></g>
<g id="a18" class="nd y"><ellipse cx="858" cy="286" rx="15" ry="9.7"/></g>
<g id="a19" class="nd c"><ellipse cx="684" cy="296" rx="15" ry="9.7"/></g>
<g id="a20" class="nd o"><ellipse cx="801" cy="317" rx="15" ry="9.7"/></g>
<g id="a21" class="nd y"><ellipse cx="830" cy="312" rx="15" ry="9.7"/></g>
<g id="a22" class="nd o"><ellipse cx="816" cy="350" rx="15" ry="9.7"/></g>
<g id="a23" class="nd w"><ellipse cx="1047" cy="340" rx="15" ry="9.7"/></g>
<!-- left column -->
<g id="m1" class="nd y"><ellipse cx="776" cy="389" rx="15" ry="9.7"/></g>
<g id="m2" class="nd w"><ellipse cx="775" cy="409" rx="15" ry="9.7"/></g>
<g id="m3" class="nd t"><ellipse cx="745" cy="430" rx="15" ry="9.7"/></g>
<g id="m4" class="nd w"><ellipse cx="766" cy="427" rx="15" ry="9.7"/></g>
<g id="m5" class="nd w"><ellipse cx="733" cy="450" rx="15" ry="9.7"/></g>
<g id="m7" class="nd w"><ellipse cx="750" cy="477" rx="15" ry="9.7"/></g>
<g id="m6" class="nd w"><ellipse cx="733" cy="471" rx="15" ry="9.7"/></g>
<g id="m8" class="nd y"><ellipse cx="742" cy="504" rx="15" ry="9.7"/></g>
<g id="m9" class="nd y"><ellipse cx="741" cy="519" rx="15" ry="9.7"/></g>
<g id="m10" class="nd y"><ellipse cx="744" cy="541" rx="15" ry="9.7"/></g>
<g id="m11" class="nd t"><ellipse cx="717" cy="558" rx="15" ry="9.7"/></g>
<g id="m12" class="nd w"><ellipse cx="735" cy="569" rx="15" ry="9.7"/></g>
<!-- central cluster -->
<g id="c1" class="nd c"><ellipse cx="995" cy="374" rx="15" ry="9.7"/></g>
<g id="c2" class="nd p"><ellipse cx="1027" cy="374" rx="15" ry="9.7"/></g>
<g id="c6" class="nd w"><ellipse cx="967" cy="389" rx="15" ry="9.7"/></g>
<g id="c7" class="nd w"><ellipse cx="983" cy="389" rx="15" ry="9.7"/></g>
<g id="c8" class="nd w"><ellipse cx="1009" cy="389" rx="15" ry="9.7"/></g>
<g id="c4" class="nd w"><ellipse cx="1096" cy="388" rx="15" ry="9.7"/></g>
<g id="c9" class="nd c"><ellipse cx="1027" cy="399" rx="15" ry="9.7"/></g>
<g id="c13" class="nd w"><ellipse cx="1047" cy="392" rx="15" ry="9.7"/></g>
<g id="c3" class="nd rg w"><ellipse cx="1067" cy="385" rx="14.8" ry="9.2"/></g>
<g id="c10" class="nd o"><ellipse cx="932" cy="403" rx="15" ry="9.7"/></g>
<g id="c11" class="nd c"><ellipse cx="952" cy="398" rx="15" ry="9.7"/></g>
<g id="c12" class="nd w"><ellipse cx="998" cy="406" rx="15" ry="9.7"/></g>
<g id="c14" class="nd b"><ellipse cx="1074" cy="405" rx="15" ry="9.7"/></g>
<g id="c15" class="nd c"><ellipse cx="1051" cy="412" rx="15" ry="9.7"/></g>
<g id="c16" class="nd w"><ellipse cx="1097" cy="412" rx="15" ry="9.7"/></g>
<g id="c17" class="nd w"><ellipse cx="1122" cy="421" rx="15" ry="9.7"/></g>
<g id="c18" class="nd o"><ellipse cx="923" cy="417" rx="15" ry="9.7"/></g>
<g id="c20" class="nd o"><ellipse cx="971" cy="414" rx="15" ry="9.7"/></g>
<g id="c19" class="nd rg y"><ellipse cx="948" cy="421" rx="14.8" ry="9.2"/></g>
<g id="c21" class="nd y"><ellipse cx="993" cy="430" rx="15" ry="9.7"/></g>
<g id="c22" class="nd c"><ellipse cx="1027" cy="423" rx="15" ry="9.7"/></g>
<g id="c23" class="nd w"><ellipse cx="1079" cy="427" rx="15" ry="9.7"/></g>
<g id="c24" class="nd w"><ellipse cx="1128" cy="432" rx="15" ry="9.7"/></g>
<g id="c25" class="nd w"><ellipse cx="903" cy="430" rx="15" ry="9.7"/></g>
<g id="c26" class="nd w"><ellipse cx="935" cy="439" rx="15" ry="9.7"/></g>
<g id="c27" class="nd c"><ellipse cx="1059" cy="439" rx="15" ry="9.7"/></g>
<g id="c28" class="nd c"><ellipse cx="1099" cy="439" rx="15" ry="9.7"/></g>
<g id="c30" class="nd o"><ellipse cx="879" cy="452" rx="15" ry="9.7"/></g>
<g id="c29" class="nd y"><ellipse cx="900" cy="445" rx="15" ry="9.7"/></g>
<g id="c31" class="nd y"><ellipse cx="860" cy="463" rx="15" ry="9.7"/></g>
<g id="c32" class="nd c"><ellipse cx="974" cy="450" rx="15" ry="9.7"/></g>
<g id="c33" class="nd w"><ellipse cx="1014" cy="448" rx="15" ry="9.7"/></g>
<g id="c34" class="nd w"><ellipse cx="914" cy="460" rx="15" ry="9.7"/></g>
<g id="c35" class="nd w"><ellipse cx="950" cy="459" rx="15" ry="9.7"/></g>
<g id="c36" class="nd w"><ellipse cx="1045" cy="460" rx="15" ry="9.7"/></g>
<g id="c37" class="nd y"><ellipse cx="1120" cy="449" rx="15" ry="9.7"/></g>
<g id="c38" class="nd t"><ellipse cx="1141" cy="450" rx="15" ry="9.7"/></g>
<g id="c39" class="nd o"><ellipse cx="1099" cy="466" rx="15" ry="9.7"/></g>
<g id="c40" class="nd c"><ellipse cx="1126" cy="473" rx="15" ry="9.7"/></g>
<g id="c41" class="nd y"><ellipse cx="1146" cy="468" rx="15" ry="9.7"/></g>
<g id="c42" class="nd w"><ellipse cx="1154" cy="480" rx="15" ry="9.7"/></g>
<g id="c43" class="nd w"><ellipse cx="1004" cy="475" rx="15" ry="9.7"/></g>
<g id="c44" class="nd w"><ellipse cx="1075" cy="475" rx="15" ry="9.7"/></g>
<g id="c45" class="nd b"><ellipse cx="896" cy="484" rx="15" ry="9.7"/></g>
<g id="c46" class="nd b"><ellipse cx="875" cy="493" rx="15" ry="9.7"/></g>
<g id="c47" class="nd c"><ellipse cx="928" cy="480" rx="15" ry="9.7"/></g>
<g id="c48" class="nd o"><ellipse cx="975" cy="483" rx="15" ry="9.7"/></g>
<g id="c49" class="nd y"><ellipse cx="1038" cy="487" rx="15" ry="9.7"/></g>
<g id="c50" class="nd y"><ellipse cx="954" cy="497" rx="15" ry="9.7"/></g>
<g id="c51" class="nd c"><ellipse cx="1067" cy="501" rx="15" ry="9.7"/></g>
<g id="c52" class="nd c"><ellipse cx="1108" cy="496" rx="15" ry="9.7"/></g>
<g id="c54" class="nd t"><ellipse cx="1158" cy="501" rx="15" ry="9.7"/></g>
<g id="c53" class="nd r"><ellipse cx="1136" cy="497" rx="15" ry="9.7"/></g>
<g id="c55" class="nd rg o"><ellipse cx="1183" cy="504" rx="14.8" ry="9.2"/></g>
<g id="c56" class="nd y"><ellipse cx="918" cy="506" rx="15" ry="9.7"/></g>
<g id="c57" class="nd o"><ellipse cx="893" cy="515" rx="15" ry="9.7"/></g>
<g id="c58" class="nd t"><ellipse cx="865" cy="524" rx="15" ry="9.7"/></g>
<g id="c59" class="nd c"><ellipse cx="945" cy="520" rx="15" ry="9.7"/></g>
<g id="c60" class="nd c"><ellipse cx="913" cy="531" rx="15" ry="9.7"/></g>
<g id="c61" class="nd w"><ellipse cx="1092" cy="520" rx="15" ry="9.7"/></g>
<g id="c63" class="nd o"><ellipse cx="1150" cy="518" rx="15" ry="9.7"/></g>
<g id="c62" class="nd b"><ellipse cx="1124" cy="526" rx="15" ry="9.7"/></g>
<g id="c64" class="nd w"><ellipse cx="1063" cy="533" rx="15" ry="9.7"/></g>
<g id="c66" class="nd b"><ellipse cx="1169" cy="535" rx="15" ry="9.7"/></g>
<g id="c65" class="nd rg t"><ellipse cx="1147" cy="537" rx="14.8" ry="9.2"/></g>
<g id="c67" class="nd t"><ellipse cx="866" cy="549" rx="15" ry="9.7"/></g>
<g id="c68" class="nd w"><ellipse cx="895" cy="549" rx="15" ry="9.7"/></g>
<g id="c69" class="nd c"><ellipse cx="913" cy="559" rx="15" ry="9.7"/></g>
<g id="c70" class="nd y"><ellipse cx="934" cy="552" rx="15" ry="9.7"/></g>
<g id="c71" class="nd w"><ellipse cx="960" cy="545" rx="15" ry="9.7"/></g>
<g id="c72" class="nd c"><ellipse cx="1092" cy="550" rx="15" ry="9.7"/></g>
<g id="c73" class="nd c"><ellipse cx="1122" cy="552" rx="15" ry="9.7"/></g>
<g id="c75" class="nd w"><ellipse cx="1168" cy="557" rx="15" ry="9.7"/></g>
<g id="c74" class="nd w"><ellipse cx="1146" cy="560" rx="15" ry="9.7"/></g>
<g id="c76" class="nd o"><ellipse cx="1056" cy="562" rx="15" ry="9.7"/></g>
<g id="c77" class="nd w"><ellipse cx="975" cy="574" rx="15" ry="9.7"/></g>
<g id="c78" class="nd y"><ellipse cx="1020" cy="579" rx="15" ry="9.7"/></g>
<g id="c79" class="nd w"><ellipse cx="898" cy="581" rx="15" ry="9.7"/></g>
<g id="c80" class="nd w"><ellipse cx="920" cy="587" rx="15" ry="9.7"/></g>
<g id="c81" class="nd o"><ellipse cx="945" cy="581" rx="15" ry="9.7"/></g>
<g id="c82" class="nd o"><ellipse cx="1080" cy="579" rx="15" ry="9.7"/></g>
<g id="c83" class="nd o"><ellipse cx="1110" cy="578" rx="15" ry="9.7"/></g>
<g id="c84" class="nd y"><ellipse cx="1135" cy="578" rx="15" ry="9.7"/></g>
<g id="c85" class="nd w"><ellipse cx="1158" cy="581" rx="15" ry="9.7"/></g>
<g id="c86" class="nd k"><ellipse cx="864" cy="586" rx="15" ry="9.7"/></g>
<g id="c87" class="nd w"><ellipse cx="995" cy="596" rx="15" ry="9.7"/></g>
<g id="c88" class="nd b"><ellipse cx="1044" cy="594" rx="15" ry="9.7"/></g>
<g id="c90" class="nd w"><ellipse cx="1136" cy="596" rx="15" ry="9.7"/></g>
<g id="c89" class="nd o"><ellipse cx="1108" cy="600" rx="15" ry="9.7"/></g>
<g id="c91" class="nd t"><ellipse cx="918" cy="604" rx="15" ry="9.7"/></g>
<g id="c93" class="nd c"><ellipse cx="963" cy="604" rx="15" ry="9.7"/></g>
<g id="c92" class="nd b"><ellipse cx="935" cy="612" rx="15" ry="9.7"/></g>
<g id="c94" class="nd w"><ellipse cx="1059" cy="611" rx="15" ry="9.7"/></g>
<g id="c96" class="nd c"><ellipse cx="1128" cy="610" rx="15" ry="9.7"/></g>
<g id="c95" class="nd c"><ellipse cx="1084" cy="608" rx="15" ry="9.7"/></g>
<g id="c97" class="nd w"><ellipse cx="1106" cy="621" rx="15" ry="9.7"/></g>
<g id="c98" class="nd p"><ellipse cx="871" cy="619" rx="15" ry="9.7"/></g>
<g id="c99" class="nd t"><ellipse cx="1022" cy="618" rx="15" ry="9.7"/></g>
<g id="c104" class="nd o"><ellipse cx="924" cy="633" rx="15" ry="9.7"/></g>
<g id="c101" class="nd b"><ellipse cx="950" cy="627" rx="15" ry="9.7"/></g>
<g id="c100" class="nd b"><ellipse cx="999" cy="623" rx="15" ry="9.7"/></g>
<g id="c102" class="nd p"><ellipse cx="970" cy="626" rx="15" ry="9.7"/></g>
<g id="c103" class="nd w"><ellipse cx="1039" cy="629" rx="15" ry="9.7"/></g>
<g id="c105" class="nd c"><ellipse cx="1064" cy="633" rx="15" ry="9.7"/></g>
<g id="c106" class="nd o"><ellipse cx="1087" cy="629" rx="15" ry="9.7"/></g>
<g id="c108" class="nd o"><ellipse cx="960" cy="647" rx="15" ry="9.7"/></g>
<g id="c109" class="nd o"><ellipse cx="1003" cy="648" rx="15" ry="9.7"/></g>
<g id="c107" class="nd y"><ellipse cx="985" cy="640" rx="15" ry="9.7"/></g>
<g id="c111" class="nd y"><ellipse cx="1045" cy="662" rx="15" ry="9.7"/></g>
<g id="c110" class="nd w"><ellipse cx="1022" cy="661" rx="15" ry="9.7"/></g>
<g id="h0k" class="nd k"><ellipse cx="1019" cy="531" rx="15" ry="9.7"/></g>
<g id="h0" class="nd w"><ellipse cx="1006" cy="529" rx="15" ry="9.7"/></g>
<!-- middle left -->
<g id="l1" class="nd y"><ellipse cx="609" cy="423" rx="15" ry="9.7"/></g>
<g id="l2" class="nd o"><ellipse cx="600" cy="451" rx="15" ry="9.7"/></g>
<g id="l3" class="nd r"><ellipse cx="611" cy="497" rx="15" ry="9.7"/></g>
<g id="l4" class="nd t"><ellipse cx="607" cy="531" rx="15" ry="9.7"/></g>
<g id="l5" class="nd rg w"><ellipse cx="606" cy="596" rx="14.8" ry="9.2"/></g>
<g id="l6" class="nd y"><ellipse cx="579" cy="653" rx="15" ry="9.7"/></g>
<g id="l7" class="nd y"><ellipse cx="507" cy="580" rx="15" ry="9.7"/></g>
<g id="l8" class="nd t"><ellipse cx="642" cy="682" rx="15" ry="9.7"/></g>
<g id="l9" class="nd o"><ellipse cx="541" cy="723" rx="15" ry="9.7"/></g>
<g id="l10" class="nd o"><ellipse cx="624" cy="753" rx="15" ry="9.7"/></g>
<g id="l11" class="nd p"><ellipse cx="658" cy="786" rx="15" ry="9.7"/></g>
<g id="l12" class="nd w"><ellipse cx="537" cy="841" rx="15" ry="9.7"/></g>
<g id="l13" class="nd w"><ellipse cx="599" cy="849" rx="15" ry="9.7"/></g>
<g id="q1" class="nd p"><ellipse cx="744" cy="611" rx="15" ry="9.7"/></g>
<g id="q2" class="nd p"><ellipse cx="760" cy="640" rx="15" ry="9.7"/></g>
<g id="q3" class="nd p"><ellipse cx="731" cy="665" rx="15" ry="9.7"/></g>
<g id="q4" class="nd p"><ellipse cx="775" cy="669" rx="15" ry="9.7"/></g>
<g id="q5" class="nd p"><ellipse cx="785" cy="692" rx="15" ry="9.7"/></g>
<g id="q6" class="nd p"><ellipse cx="800" cy="716" rx="15" ry="9.7"/></g>
<g id="q7" class="nd p"><ellipse cx="825" cy="732" rx="15" ry="9.7"/></g>
<g id="v1" class="nd w"><ellipse cx="725" cy="705" rx="15" ry="9.7"/></g>
<g id="v2" class="nd w"><ellipse cx="738" cy="741" rx="15" ry="9.7"/></g>
<g id="v3" class="nd w"><ellipse cx="706" cy="822" rx="15" ry="9.7"/></g>
<g id="v4" class="nd w"><ellipse cx="767" cy="841" rx="15" ry="9.7"/></g>
<g id="v5" class="nd rg r"><ellipse cx="884" cy="746" rx="14.8" ry="9.2"/></g>
<g id="v6" class="nd w"><ellipse cx="870" cy="752" rx="15" ry="9.7"/></g>
<g id="v7" class="nd w"><ellipse cx="920" cy="761" rx="15" ry="9.7"/></g>
<g id="v8" class="nd w"><ellipse cx="943" cy="755" rx="15" ry="9.7"/></g>
<g id="v9" class="nd w"><ellipse cx="925" cy="789" rx="15" ry="9.7"/></g>
<g id="v10" class="nd w"><ellipse cx="819" cy="845" rx="15" ry="9.7"/></g>
<g id="v11" class="nd w"><ellipse cx="853" cy="851" rx="15" ry="9.7"/></g>
<g id="v12" class="nd rg w"><ellipse cx="819" cy="897" rx="14.8" ry="9.2"/></g>
<g id="v13" class="nd w"><ellipse cx="873" cy="897" rx="15" ry="9.7"/></g>
<g id="v14" class="nd y"><ellipse cx="893" cy="906" rx="15" ry="9.7"/></g>
<g id="v15" class="nd p"><ellipse cx="686" cy="937" rx="15" ry="9.7"/></g>
<g id="v16" class="nd y"><ellipse cx="1015" cy="958" rx="15" ry="9.7"/></g>
<g id="v17" class="nd t"><ellipse cx="1236" cy="658" rx="15" ry="9.7"/></g>
<!-- lower fan -->
<g id="f0" class="nd t"><ellipse cx="1042" cy="709" rx="15" ry="9.7"/></g>
<g id="f2" class="nd o"><ellipse cx="1213" cy="713" rx="15" ry="9.7"/></g>
<g id="f1" class="nd rg b"><ellipse cx="1202" cy="702" rx="14.8" ry="9.2"/></g>
<g id="f3" class="nd b"><ellipse cx="1187" cy="719" rx="15" ry="9.7"/></g>
<g id="f4" class="nd o"><ellipse cx="1167" cy="732" rx="15" ry="9.7"/></g>
<g id="f5" class="nd o"><ellipse cx="1207" cy="731" rx="15" ry="9.7"/></g>
<g id="f6" class="nd w"><ellipse cx="1144" cy="750" rx="15" ry="9.7"/></g>
<g id="f8" class="nd rg o"><ellipse cx="1199" cy="747" rx="14.8" ry="9.2"/></g>
<g id="f7" class="nd rg o"><ellipse cx="1171" cy="755" rx="14.8" ry="9.2"/></g>
<g id="f9" class="nd rg o"><ellipse cx="1192" cy="766" rx="14.8" ry="9.2"/></g>
<g id="f10" class="nd o"><ellipse cx="1119" cy="766" rx="15" ry="9.7"/></g>
<g id="f11" class="nd o"><ellipse cx="1092" cy="779" rx="15" ry="9.7"/></g>
<g id="f13" class="nd w"><ellipse cx="1177" cy="782" rx="15" ry="9.7"/></g>
<g id="f12" class="nd o"><ellipse cx="1147" cy="779" rx="15" ry="9.7"/></g>
<g id="f14" class="nd y"><ellipse cx="1036" cy="780" rx="15" ry="9.7"/></g>
<g id="f18" class="nd w"><ellipse cx="1164" cy="799" rx="15" ry="9.7"/></g>
<g id="f16" class="nd w"><ellipse cx="1061" cy="795" rx="15" ry="9.7"/></g>
<g id="f17" class="nd o"><ellipse cx="1119" cy="797" rx="15" ry="9.7"/></g>
<g id="f19" class="nd w"><ellipse cx="966" cy="802" rx="15" ry="9.7"/></g>
<g id="f20" class="nd w"><ellipse cx="1009" cy="801" rx="15" ry="9.7"/></g>
<g id="f15" class="nd rg o"><ellipse cx="986" cy="791" rx="14.8" ry="9.2"/></g>
<g id="f21" class="nd w"><ellipse cx="1086" cy="811" rx="15" ry="9.7"/></g>
<g id="f22" class="nd o"><ellipse cx="1147" cy="809" rx="15" ry="9.7"/></g>
<g id="f23" class="nd w"><ellipse cx="972" cy="822" rx="15" ry="9.7"/></g>
<g id="f27" class="nd w"><ellipse cx="1133" cy="824" rx="15" ry="9.7"/></g>
<g id="f26" class="nd o"><ellipse cx="1055" cy="824" rx="15" ry="9.7"/></g>
<g id="f28" class="nd o"><ellipse cx="1114" cy="829" rx="15" ry="9.7"/></g>
<g id="f29" class="nd w"><ellipse cx="1095" cy="838" rx="15" ry="9.7"/></g>
<g id="f30" class="nd w"><ellipse cx="1075" cy="841" rx="15" ry="9.7"/></g>
<g id="f31" class="nd y"><ellipse cx="1005" cy="838" rx="15" ry="9.7"/></g>
<g id="f24" class="nd o"><ellipse cx="992" cy="826" rx="15" ry="9.7"/></g>
<g id="f25" class="nd rg w"><ellipse cx="1027" cy="820" rx="14.8" ry="9.2"/></g>
<g id="f32" class="nd rg o"><ellipse cx="1027" cy="843" rx="14.8" ry="9.2"/></g>
<g id="f33" class="nd rg o"><ellipse cx="1052" cy="847" rx="14.8" ry="9.2"/></g>
<!-- right branch -->
<g id="r1" class="nd o"><ellipse cx="1365" cy="332" rx="15" ry="9.7"/></g>
<g id="r2" class="nd o"><ellipse cx="1383" cy="358" rx="15" ry="9.7"/></g>
<g id="r3" class="nd o"><ellipse cx="1397" cy="389" rx="15" ry="9.7"/></g>
<g id="r4" class="nd rg w"><ellipse cx="1413" cy="428" rx="14.8" ry="9.2"/></g>
<g id="r5" class="nd w"><ellipse cx="1551" cy="456" rx="15" ry="9.7"/></g>
<g id="r6" class="nd o"><ellipse cx="1421" cy="463" rx="15" ry="9.7"/></g>
<g id="r7" class="nd t"><ellipse cx="1316" cy="484" rx="15" ry="9.7"/></g>
<g id="r8" class="nd t"><ellipse cx="1438" cy="506" rx="15" ry="9.7"/></g>
<g id="r9" class="nd o"><ellipse cx="1425" cy="540" rx="15" ry="9.7"/></g>
<g id="r10" class="nd o"><ellipse cx="1425" cy="578" rx="15" ry="9.7"/></g>
<g id="r11" class="nd o"><ellipse cx="1422" cy="610" rx="15" ry="9.7"/></g>
<g id="r12" class="nd o"><ellipse cx="1554" cy="579" rx="15" ry="9.7"/></g>
<!-- far left -->
<g id="s1" class="nd p"><ellipse cx="153" cy="576" rx="15" ry="9.7"/></g>
<g id="s2" class="nd o"><ellipse cx="299" cy="619" rx="15" ry="9.7"/></g>
<g id="s3" class="nd rg o"><ellipse cx="272" cy="635" rx="14.8" ry="9.2"/></g>
<g id="s4" class="nd w"><ellipse cx="281" cy="677" rx="15" ry="9.7"/></g>
<g id="s5" class="nd b"><ellipse cx="285" cy="709" rx="15" ry="9.7"/></g>
<g id="s6" class="nd o"><ellipse cx="274" cy="738" rx="15" ry="9.7"/></g>
<g id="s7" class="nd g"><ellipse cx="395" cy="730" rx="15" ry="9.7"/></g>
<g id="s8" class="nd w"><ellipse cx="281" cy="784" rx="15" ry="9.7"/></g>
<g id="s9" class="nd t"><ellipse cx="421" cy="766" rx="15" ry="9.7"/></g>
<g id="s10" class="nd p"><ellipse cx="435" cy="798" rx="15" ry="9.7"/></g>
<g id="s11" class="nd b"><ellipse cx="153" cy="807" rx="15" ry="9.7"/></g>
<g id="s12" class="nd rg t"><ellipse cx="28" cy="827" rx="14.8" ry="9.2"/></g>
<g id="s13" class="nd t"><ellipse cx="291" cy="849" rx="15" ry="9.7"/></g>
<g id="s14" class="nd y"><ellipse cx="403" cy="860" rx="15" ry="9.7"/></g>
<g id="s15" class="nd t"><ellipse cx="150" cy="897" rx="15" ry="9.7"/></g>
<g id="s16" class="nd y"><ellipse cx="277" cy="908" rx="15" ry="9.7"/></g>
<g id="s17" class="nd t"><ellipse cx="55" cy="949" rx="15" ry="9.7"/></g>
<g id="s18" class="nd rg t"><ellipse cx="180" cy="966" rx="14.8" ry="9.2"/></g>
<g id="s19" class="nd t"><ellipse cx="89" cy="1023" rx="15" ry="9.7"/></g>
<g id="s20" class="nd w"><ellipse cx="240" cy="1043" rx="15" ry="9.7"/></g>
<g id="s21" class="nd w"><ellipse cx="482" cy="822" rx="15" ry="9.7"/></g>
<g id="s22" class="nd w"><ellipse cx="443" cy="840" rx="15" ry="9.7"/></g>
<g id="s23" class="nd o"><ellipse cx="457" cy="882" rx="15" ry="9.7"/></g>
<g id="s24" class="nd b"><ellipse cx="470" cy="908" rx="15" ry="9.7"/></g>
<g id="s25" class="nd b"><ellipse cx="492" cy="926" rx="15" ry="9.7"/></g>
<g id="s26" class="nd b"><ellipse cx="516" cy="943" rx="15" ry="9.7"/></g>
<g id="s27" class="nd b"><ellipse cx="541" cy="955" rx="15" ry="9.7"/></g>
<g id="s28" class="nd w"><ellipse cx="609" cy="996" rx="15" ry="9.7"/></g>
<g id="s29" class="nd w"><ellipse cx="656" cy="1036" rx="15" ry="9.7"/></g>
<g id="s30" class="nd w"><ellipse cx="697" cy="1197" rx="15" ry="9.7"/></g>
<g id="s31" class="nd w"><ellipse cx="536" cy="1021" rx="15" ry="9.7"/></g>
<g id="s32" class="nd w"><ellipse cx="398" cy="1037" rx="15" ry="9.7"/></g>
<g id="s33" class="nd w"><ellipse cx="418" cy="1066" rx="15" ry="9.7"/></g>
<g id="s34" class="nd o"><ellipse cx="438" cy="1089" rx="15" ry="9.7"/></g>
<g id="s35" class="nd b"><ellipse cx="460" cy="1113" rx="15" ry="9.7"/></g>
<g id="s36" class="nd w"><ellipse cx="492" cy="1122" rx="15" ry="9.7"/></g>
<g id="s37" class="nd y"><ellipse cx="514" cy="1151" rx="15" ry="9.7"/></g>
<g id="s38" class="nd b"><ellipse cx="546" cy="1134" rx="15" ry="9.7"/></g>
<g id="s39" class="nd y"><ellipse cx="563" cy="1167" rx="15" ry="9.7"/></g>
<g id="s40" class="nd w"><ellipse cx="592" cy="1151" rx="15" ry="9.7"/></g>
<g id="s41" class="nd o"><ellipse cx="615" cy="1165" rx="15" ry="9.7"/></g>
</g>
</g>
</svg>
